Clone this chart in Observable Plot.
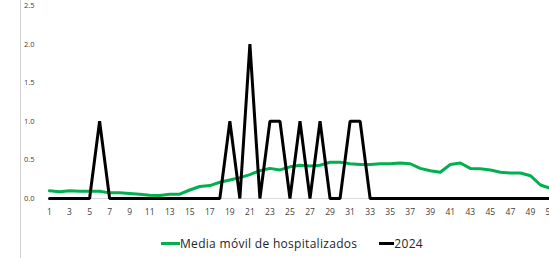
<!DOCTYPE html>
<html>
<head>
<meta charset="utf-8">
<script src="https://cdn.jsdelivr.net/npm/d3@7"></script>
<script src="https://cdn.jsdelivr.net/npm/@observablehq/plot@0.6"></script>
<style>
  html, body { margin: 0; padding: 0; background: #fff; overflow: hidden; }
  #wrap { position: relative; width: 549px; height: 258px; overflow: hidden; font-family: "Open Sans", sans-serif; }
  #vline { position: absolute; left: 20px; top: 0; width: 1px; height: 258px; background: #d0d0d0; z-index: 3; }
  #chart { position: absolute; left: 0; top: 0; width: 570px; z-index: 1; }
  #chart svg { max-width: none !important; background: transparent !important; }
  #legend { position: absolute; top: 235px; left: 161px; display: flex; align-items: center; font-size: 12px; letter-spacing: 0.3px; color: #262626; white-space: nowrap; z-index: 2; }
  .sw { display: inline-block; height: 3px; }
</style>
</head>
<body>
<div id="wrap">
  <div id="chart"></div>
  <div id="legend">
    <span class="sw" style="width:19px;background:#00b050"></span><span>Media móvil de hospitalizados</span>
    <span class="sw" style="width:15px;background:#000;margin-left:22px"></span><span>2024</span>
  </div>
  <div id="vline"></div>
</div>
<script>
const weeks = d3.range(1, 53);
const media = [0.10, 0.086, 0.10, 0.095, 0.095, 0.095, 0.073, 0.073, 0.065, 0.056,
               0.043, 0.04, 0.056, 0.056, 0.11, 0.155, 0.167, 0.21, 0.24, 0.27,
               0.31, 0.36, 0.39, 0.37, 0.41, 0.43, 0.42, 0.43, 0.47, 0.47,
               0.45, 0.44, 0.44, 0.45, 0.45, 0.46, 0.45, 0.39, 0.36, 0.34,
               0.44, 0.46, 0.39, 0.385, 0.37, 0.34, 0.33, 0.33, 0.295, 0.175,
               0.13, 0.11];
const y2024 = [0, 0, 0, 0, 0, 1, 0, 0, 0, 0,
               0, 0, 0, 0, 0, 0, 0, 0, 1, 0,
               2, 0, 1, 1, 0, 1, 0, 1, 0, 0,
               1, 1, 0, 0, 0, 0, 0, 0, 0, 0,
               0, 0, 0, 0, 0, 0, 0, 0, 0, 0,
               0, 0];
const xTicks = d3.range(1, 53, 2);
const yTicks = [0, 0.5, 1.0, 1.5, 2.0, 2.5];

const rows = weeks.map((w, i) => ({week: w, media: media[i], v2024: y2024[i]}));

const chart = Plot.plot({
  width: 570,
  height: 225,
  marginLeft: 49,
  marginRight: 10,
  marginTop: 5,
  marginBottom: 27,
  style: {fontFamily: "Open Sans, sans-serif", fontSize: "8px", color: "#404040", background: "transparent", maxWidth: "none"},
  x: {type: "linear", domain: [1, 52], label: null},
  y: {domain: [0, 2.5], label: null},
  marks: [
    Plot.ruleY([0], {stroke: "#d9d9d9", strokeWidth: 1}),
    Plot.lineY(rows, {x: "week", y: "media", stroke: "#00b050", strokeWidth: 3}),
    Plot.lineY(rows, {x: "week", y: "v2024", stroke: "#000", strokeWidth: 3, strokeLinejoin: "miter"}),
    Plot.axisX({ticks: xTicks, tickFormat: d => String(d), tickSize: 0, tickPadding: 10, fontSize: 8.5, label: null}),
    Plot.axisY({ticks: yTicks, tickFormat: d3.format(".1f"), tickSize: 0, tickPadding: 15, fontSize: 7.5, label: null})
  ]
});
document.getElementById("chart").appendChild(chart);
</script>
</body>
</html>
